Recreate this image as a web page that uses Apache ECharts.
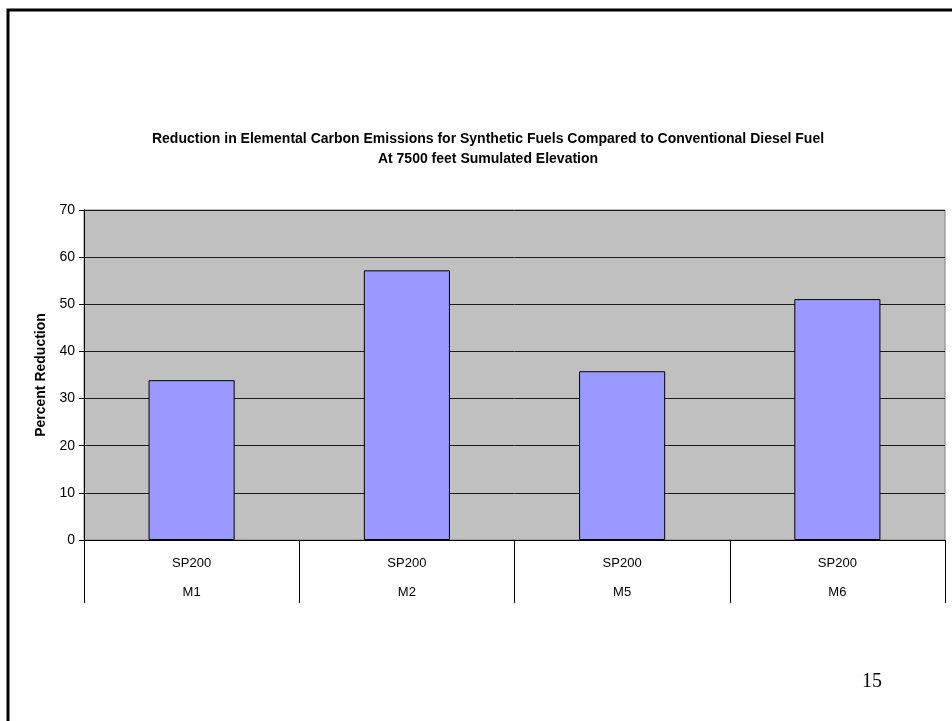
<!DOCTYPE html>
<html>
<head>
<meta charset="utf-8">
<title>Elemental Carbon Reduction</title>
<script src="https://cdn.jsdelivr.net/npm/echarts@6/dist/echarts.min.js"></script>
<style>
  html, body { margin: 0; padding: 0; background: #ffffff; }
  #chart { width: 952px; height: 721px; }
</style>
</head>
<body>
<div id="chart"></div>
<script>
// Fuel blend and test mode for each bar
const fuels = ['SP200', 'SP200', 'SP200', 'SP200'];
const modes = ['M1', 'M2', 'M5', 'M6'];
// Percent reduction in elemental carbon vs. conventional diesel
const reductions = [33.9, 57.2, 35.8, 51.1];
// Value axis ticks
const yTicks = [0, 10, 20, 30, 40, 50, 60, 70];

const titleLines = [
  'Reduction in Elemental Carbon Emissions for Synthetic Fuels Compared to Conventional Diesel Fuel',
  'At 7500 feet Sumulated Elevation'
];
const pageNumber = '15';

const FONT = 'Arial, "Liberation Sans", sans-serif';
const categories = fuels.map((f, i) => f + '\n' + modes[i]);

const chart = echarts.init(document.getElementById('chart'), null, { renderer: 'canvas' });

chart.setOption({
  backgroundColor: '#ffffff',
  animation: false,
  title: {
    text: titleLines.join('\n'),
    left: 483,
    top: 124,
    textAlign: 'center',
    textStyle: {
      fontFamily: FONT,
      fontSize: 14,
      fontWeight: 'bold',
      color: '#000000',
      lineHeight: 20
    }
  },
  grid: {
    left: 84,
    right: 7,
    top: 210,
    bottom: 181,
    show: true,
    backgroundColor: '#c0c0c0',
    borderColor: '#808080',
    borderWidth: 1
  },
  xAxis: {
    type: 'category',
    data: categories,
    boundaryGap: true,
    axisLine: { show: true, lineStyle: { color: '#000000', width: 1 } },
    axisTick: {
      show: true,
      interval: 0,
      length: 63,
      lineStyle: { color: '#000000', width: 1 }
    },
    axisLabel: {
      interval: 0,
      margin: 9,
      fontFamily: FONT,
      fontSize: 13,
      color: '#000000',
      lineHeight: 29
    },
    splitLine: { show: false }
  },
  yAxis: {
    type: 'value',
    min: yTicks[0],
    max: yTicks[yTicks.length - 1],
    interval: yTicks[1] - yTicks[0],
    name: 'Percent Reduction',
    nameLocation: 'middle',
    nameGap: 33,
    nameTextStyle: {
      fontFamily: FONT,
      fontSize: 14,
      fontWeight: 'bold',
      color: '#000000'
    },
    axisLine: { show: true, lineStyle: { color: '#000000', width: 1 } },
    axisTick: { show: true, length: 5, lineStyle: { color: '#000000' } },
    axisLabel: {
      margin: 9,
      fontFamily: FONT,
      fontSize: 14,
      color: '#000000'
    },
    splitLine: { show: true, lineStyle: { color: '#1a1a1a', width: 1 } }
  },
  series: [{
    type: 'bar',
    data: reductions,
    barWidth: '40%',
    itemStyle: {
      color: '#9999ff',
      borderColor: '#000000',
      borderWidth: 1
    }
  }],
  graphic: [
    {
      // slide frame
      type: 'polyline',
      shape: { points: [[8, 730], [8, 10], [960, 10]] },
      style: { stroke: '#000000', lineWidth: 3, fill: null },
      silent: true
    },
    {
      type: 'text',
      left: 862,
      top: 672,
      style: {
        text: pageNumber,
        fontFamily: '"Liberation Serif", "Times New Roman", serif',
        fontSize: 20,
        fill: '#000000'
      }
    }
  ]
});
</script>
</body>
</html>
